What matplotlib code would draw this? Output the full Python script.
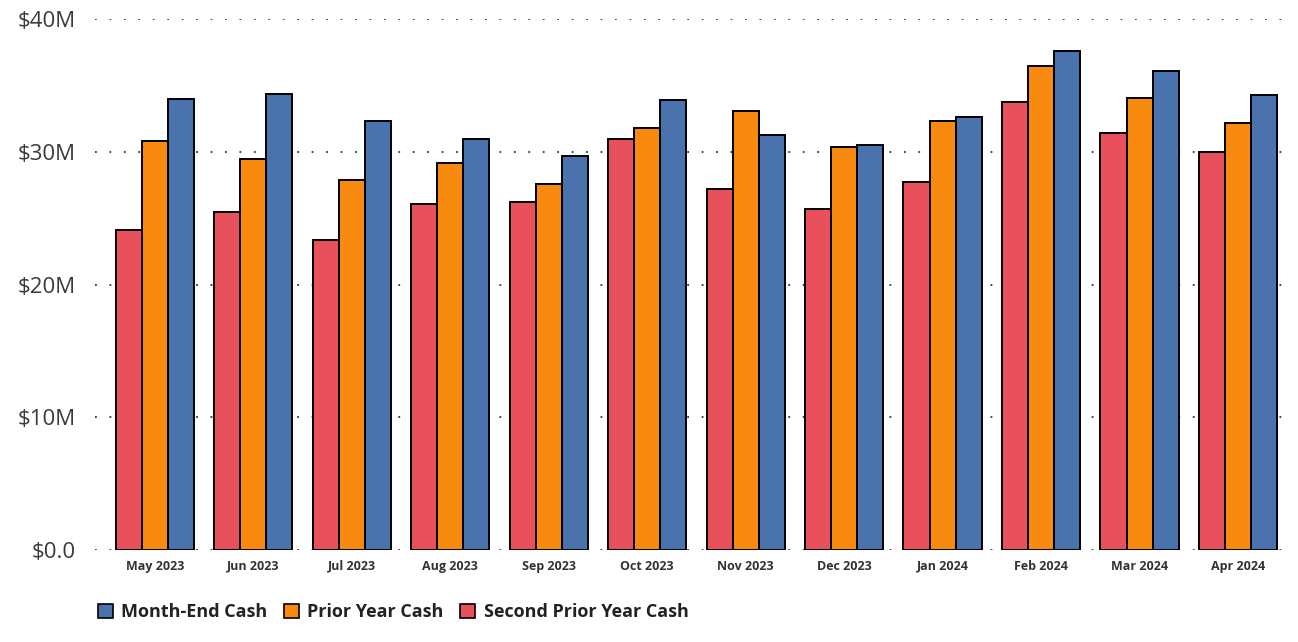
import matplotlib
matplotlib.use("Agg")
import matplotlib.pyplot as plt
import numpy as np
from matplotlib.patches import Patch
from matplotlib.ticker import FuncFormatter

months = ["May 2023", "Jun 2023", "Jul 2023", "Aug 2023", "Sep 2023", "Oct 2023",
          "Nov 2023", "Dec 2023", "Jan 2024", "Feb 2024", "Mar 2024", "Apr 2024"]
second_prior_year_cash = [24.1, 25.5, 23.4, 26.1, 26.2, 31.0, 27.2, 25.7, 27.7, 33.8, 31.4, 30.0]
prior_year_cash = [30.8, 29.5, 27.9, 29.2, 27.6, 31.8, 33.1, 30.4, 32.3, 36.5, 34.1, 32.2]
month_end_cash = [34.0, 34.4, 32.3, 31.0, 29.7, 33.9, 31.3, 30.5, 32.6, 37.6, 36.1, 34.3]
y_ticks = [0, 10, 20, 30, 40]

c_red = "#E8505B"
c_orange = "#F98A10"
c_blue = "#4A72AC"

fig = plt.figure(figsize=(12.98, 6.42), dpi=100)
ax = fig.add_axes([0.073, 0.1433, 0.921, 0.8267])

x = np.arange(len(months))
w = 0.265
kw = dict(edgecolor="black", linewidth=1.4, zorder=3)
ax.bar(x - w, second_prior_year_cash, w, color=c_red, **kw)
ax.bar(x, prior_year_cash, w, color=c_orange, **kw)
ax.bar(x + w, month_end_cash, w, color=c_blue, **kw)

ax.set_xlim(-0.61, len(months) - 1 + 0.53)
ax.set_ylim(0, 40)
ax.set_yticks(y_ticks)
ax.yaxis.set_major_formatter(FuncFormatter(lambda v, p: "$0.0" if v == 0 else f"${v:.0f}M"))
ax.set_xticks(x)
ax.set_xticklabels(months, fontsize=9, fontweight="bold", color="#333333", family="Open Sans")
for lab in ax.get_yticklabels():
    lab.set_fontsize(16)
    lab.set_color("#3a3a3a")
    lab.set_family("Open Sans")
ax.tick_params(axis="y", length=0, pad=14)
ax.tick_params(axis="x", length=0, pad=7)
ax.grid(axis="y", color="#333333", linestyle=(0, (1, 7)), linewidth=1.3, zorder=0)
for s in ax.spines.values():
    s.set_visible(False)

handles = [Patch(facecolor=c_blue, edgecolor="black", linewidth=1.2, label="Month-End Cash"),
           Patch(facecolor=c_orange, edgecolor="black", linewidth=1.2, label="Prior Year Cash"),
           Patch(facecolor=c_red, edgecolor="black", linewidth=1.2, label="Second Prior Year Cash")]
leg = fig.legend(handles=handles, loc="center left", bbox_to_anchor=(0.063, 0.046), ncol=3,
                 frameon=False, handlelength=0.85, handleheight=0.85, handletextpad=0.45,
                 columnspacing=0.9, prop={"family": "Open Sans", "weight": "bold", "size": 13})
for t in leg.get_texts():
    t.set_color("#222222")

fig.savefig("out.png", dpi=100)
